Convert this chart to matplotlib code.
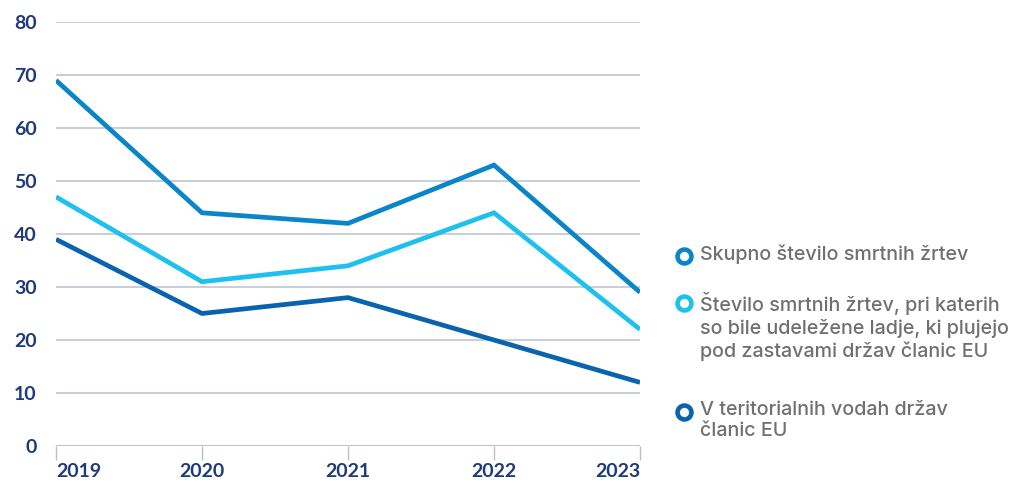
import matplotlib
matplotlib.use("Agg")
import matplotlib.pyplot as plt
from matplotlib.lines import Line2D

plt.rcParams['font.family'] = ['Lato', 'DejaVu Sans']

# Data
years = ["2019", "2020", "2021", "2022", "2023"]
total = [69, 44, 42, 53, 29]
eu_flag = [47, 31, 34, 44, 22]
eu_waters = [39, 25, 28, 20, 12]

labels = [
    "Skupno število smrtnih žrtev",
    "Število smrtnih žrtev, pri katerih\nso bile udeležene ladje, ki plujejo\npod zastavami držav članic EU",
    "V teritorialnih vodah držav\nčlanic EU",
]
colors = ["#0a86c8", "#1ec0ee", "#0a63ad"]
series = [total, eu_flag, eu_waters]

W, H = 1011, 483
fig = plt.figure(figsize=(W / 100, H / 100), dpi=100)
ax = fig.add_axes([56 / W, 1 - 446 / H, (640 - 56) / W, (446 - 22) / H])

x = range(len(years))
# draw in back-to-front order
for idx in [2, 1, 0]:
    ax.plot(x, series[idx], color=colors[idx], lw=3.4, solid_capstyle="butt",
            solid_joinstyle="miter", zorder=3)

ax.set_xlim(0, len(years) - 1)
ax.set_ylim(0, 80)
ax.set_yticks(range(0, 81, 10))
ax.set_xticks(list(x))
ax.set_xticklabels(years)

ax.grid(axis="y", color="#b9c1c7", lw=1.1, zorder=0)
ax.axhline(0, color="#c3cbd0", lw=2.2, zorder=1)
for s in ax.spines.values():
    s.set_visible(False)

ax.tick_params(axis="y", length=0, pad=14, labelsize=14, labelcolor="#1f3a7a")
ax.tick_params(axis="x", length=10, width=1, color="#b9c1c7", pad=2,
               labelsize=14, labelcolor="#1f3a7a")
for t in ax.get_xticklabels() + ax.get_yticklabels():
    t.set_fontweight("bold")
for t in ax.get_yticklabels():
    t.set_horizontalalignment("right")
xt = ax.get_xticklabels()
xt[0].set_horizontalalignment("left")
xt[-1].set_horizontalalignment("right")

# Legend
leg_y = [256, 303, 412]
for lab, c, yy in zip(labels, colors, leg_y):
    fig.add_artist(Line2D([684 / W], [1 - yy / H], marker="o", markersize=10,
                          markerfacecolor="white", markeredgecolor=c,
                          markeredgewidth=3.3, transform=fig.transFigure))
    fig.text(700 / W, 1 - (yy - 11) / H, lab, ha="left", va="top",
             fontsize=14.2, color="#707070", linespacing=1.25,
             family=["Inter", "DejaVu Sans"], fontweight="medium")

fig.savefig("out.png", dpi=100)
